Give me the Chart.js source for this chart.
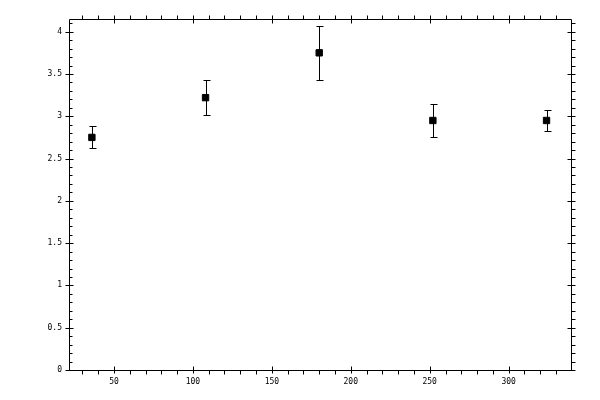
<!DOCTYPE html>
<html>
<head>
<meta charset="utf-8">
<script src="https://cdn.jsdelivr.net/npm/chart.js@4/dist/chart.umd.min.js"></script>
<style>
  html, body { margin: 0; padding: 0; background: #fff; }
  #wrap { width: 600px; height: 400px; }
</style>
</head>
<body>
<div id="wrap"><canvas id="plot" width="600" height="400"></canvas></div>
<script>
// values
const xValues = [36, 108, 180, 252, 324];
const yValues = [2.75, 3.22, 3.75, 2.95, 2.95];
const yErrLow = [2.63, 3.01, 3.43, 2.75, 2.82];
const yErrHigh = [2.88, 3.43, 4.07, 3.15, 3.07];
const xTickLabels = [50, 100, 150, 200, 250, 300];
const yTickLabels = [0, 0.5, 1, 1.5, 2, 2.5, 3, 3.5, 4];

const points = xValues.map((x, i) => ({ x: x, y: yValues[i] }));

// Error bars, drawn under the markers
const errorBars = {
    id: 'errorBars',
    beforeDatasetsDraw(chart) {
        const { ctx, scales: { x, y } } = chart;
        ctx.save();
        ctx.strokeStyle = '#000';
        ctx.lineWidth = 1;
        xValues.forEach((xv, i) => {
            const px = Math.round(x.getPixelForValue(xv)) + 0.5;
            const top = Math.round(y.getPixelForValue(yErrHigh[i])) + 0.5;
            const bot = Math.round(y.getPixelForValue(yErrLow[i])) + 0.5;
            ctx.beginPath();
            ctx.moveTo(px, top); ctx.lineTo(px, bot);
            ctx.moveTo(px - 3, top); ctx.lineTo(px + 4, top);
            ctx.moveTo(px - 3, bot); ctx.lineTo(px + 4, bot);
            ctx.stroke();
        });
        ctx.restore();
    }
};

// Box frame with major / minor tick marks on all four sides
const frameTicks = {
    id: 'frameTicks',
    afterDatasetsDraw(chart) {
        const { ctx, chartArea: a, scales: { x, y } } = chart;
        const L = Math.round(a.left) + 0.5, R = Math.round(a.right) + 0.5;
        const T = Math.round(a.top) + 0.5, B = Math.round(a.bottom) + 0.5;
        const seg = (x1, y1, x2, y2) => { ctx.moveTo(x1, y1); ctx.lineTo(x2, y2); };
        ctx.save();
        ctx.strokeStyle = '#000';
        ctx.lineWidth = 1;
        ctx.beginPath();
        seg(L, T, R, T); seg(R, T, R, B); seg(R, B, L, B); seg(L, B, L, T);

        for (let k = Math.ceil(x.min / 10); k * 10 <= x.max; k++) {
            const px = Math.round(x.getPixelForValue(k * 10)) + 0.5;
            if (k % 5 === 0) {
                seg(px, B - 4, px, B + 3);
                seg(px, T - 4, px, T + 4);
            } else {
                seg(px, B, px, B + 4);
                seg(px, T, px, T - 4);
            }
        }
        for (let k = 0; k / 10 <= y.max; k++) {
            const py = Math.round(y.getPixelForValue(k / 10)) + 0.5;
            if (k % 5 === 0) {
                seg(L - 4, py, L + 4, py);
                seg(R - 4, py, R + 4, py);
            } else {
                seg(L, py, L + 3, py);
                seg(R, py, R + 4, py);
            }
        }
        ctx.stroke();
        ctx.restore();
    }
};

const tickFont = { family: 'DejaVu Sans Mono', size: 8 };

new Chart(document.getElementById('plot'), {
    type: 'scatter',
    data: {
        datasets: [{
            data: points,
            pointStyle: 'rect',
            pointRadius: 4.5,
            pointHoverRadius: 4.5,
            backgroundColor: '#000',
            borderColor: '#000',
            borderWidth: 1
        }]
    },
    options: {
        responsive: false,
        devicePixelRatio: 1,
        animation: false,
        events: [],
        layout: { padding: { left: 0, top: 19, right: 29, bottom: 0 } },
        plugins: { legend: { display: false }, tooltip: { enabled: false } },
        scales: {
            x: {
                type: 'linear',
                min: 21.5,
                max: 339.5,
                grid: { display: false, drawTicks: false },
                border: { display: false },
                afterBuildTicks: s => { s.ticks = xTickLabels.map(v => ({ value: v })); },
                afterFit: s => { s.height = 30; },
                ticks: { color: '#000', font: tickFont, padding: 7, maxRotation: 0, callback: v => String(v) }
            },
            y: {
                type: 'linear',
                min: 0,
                max: 4.15,
                grid: { display: false, drawTicks: false },
                border: { display: false },
                afterBuildTicks: s => { s.ticks = yTickLabels.map(v => ({ value: v })); },
                afterFit: s => { s.width = 69; },
                ticks: { color: '#000', font: tickFont, padding: 7, callback: v => String(v) }
            }
        }
    },
    plugins: [errorBars, frameTicks]
});
</script>
</body>
</html>
